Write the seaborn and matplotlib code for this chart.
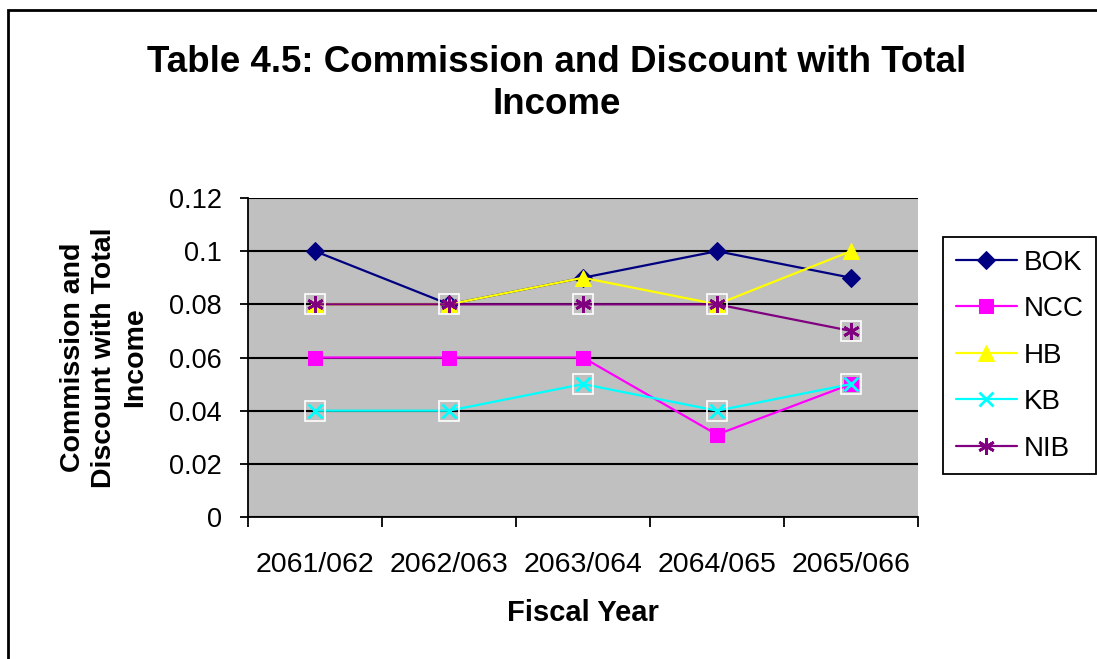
import matplotlib
matplotlib.use("Agg")
import matplotlib.pyplot as plt
import matplotlib.patches as mpatches
import seaborn as sns
import numpy as np

years = ["2061/062", "2062/063", "2063/064", "2064/065", "2065/066"]
bok = [0.10, 0.08, 0.09, 0.10, 0.09]
ncc = [0.06, 0.06, 0.06, 0.031, 0.05]
hb = [0.08, 0.08, 0.09, 0.08, 0.10]
kb = [0.04, 0.04, 0.05, 0.04, 0.05]
nib = [0.08, 0.08, 0.08, 0.08, 0.07]
y_ticks = [0, 0.02, 0.04, 0.06, 0.08, 0.1, 0.12]
y_tick_labels = ["0", "0.02", "0.04", "0.06", "0.08", "0.1", "0.12"]

sns.set_theme(style="white")
plt.rcParams['font.family'] = ['Liberation Sans', 'DejaVu Sans']
plt.rcParams.update({"text.color": "black", "axes.labelcolor": "black",
                     "xtick.color": "black", "ytick.color": "black"})

fig = plt.figure(figsize=(10.97, 6.59), dpi=100)
ax = fig.add_axes([248/1097, 1-517/659, (918-248)/1097, (517-198)/659])
ax.set_facecolor("#C0C0C0")

xs = np.arange(len(years))
series = [
    ("BOK", bok, "#000080", "D", 9, True),
    ("NCC", ncc, "#FF00FF", "s", 10, True),
    ("HB", hb, "#FFFF00", "^", 11, True),
    ("KB", kb, "#00FFFF", "x", 10, False),
    ("NIB", nib, "#800080", (6, 2, 0), 12, False),
]
for name, vals, col, mk, ms, filled in series:
    kw = dict(marker=mk, markersize=ms, color=col, linewidth=1.6, label=name, ax=ax)
    if filled:
        kw.update(markeredgecolor=col, markerfacecolor=col)
    else:
        kw.update(markeredgecolor=col, markeredgewidth=2)
    sns.lineplot(x=xs, y=vals, **kw)
    if not filled:
        ax.plot(xs, vals, linestyle="none", marker="s", markersize=14.5,
                markerfacecolor="none", markeredgecolor="white", markeredgewidth=1.2)

ax.set_xlim(-0.5, len(years) - 0.5)
ax.set_ylim(0, 0.12)
ax.set_yticks(y_ticks)
ax.set_yticklabels(y_tick_labels)
ax.set_xticks(np.arange(-0.5, len(years)), minor=False)
ax.set_xticklabels([])
ax.set_xticks(xs, minor=True)
ax.set_xticklabels(years, minor=True)
ax.tick_params(axis="x", which="major", direction="out", length=7, width=1.3, color="black", bottom=True)
ax.tick_params(axis="x", which="minor", length=0, pad=25, labelsize=20.5, labelcolor="black")
ax.tick_params(axis="y", direction="out", length=6, width=1.3, color="black", left=True,
               labelsize=19.5, pad=13, labelcolor="black")
ax.grid(axis="y", color="black", linewidth=1.5)
ax.grid(axis="x", visible=False)
for s in ["top", "right"]:
    ax.spines[s].set_visible(False)
for s in ["left", "bottom"]:
    ax.spines[s].set_color("black")
    ax.spines[s].set_linewidth(1.3)

ax.set_xlabel("Fiscal Year", fontsize=21, fontweight="bold", labelpad=15, color="black")
ax.set_ylabel("Commission and\nDiscount with Total\nIncome", fontsize=20.5, fontweight="bold",
              linespacing=1.25, color="black")
ax.yaxis.set_label_coords((148-248)/670, 0.5)

fig.text(557/1097, 1-83.5/659, "Table 4.5: Commission and Discount with Total\nIncome",
         ha="center", va="center", fontsize=26.5, fontweight="bold", linespacing=1.28, color="black")

leg = ax.legend(loc="upper left", bbox_to_anchor=(943/1097, 1-237/659), bbox_transform=fig.transFigure,
                fontsize=20, frameon=True, fancybox=False, edgecolor="black", framealpha=1,
                labelspacing=0.74, handlelength=2.2, handletextpad=0.25, borderpad=0.45,
                borderaxespad=0)
leg.get_frame().set_linewidth(1.3)
for t in leg.get_texts():
    t.set_color("black")

fig.patches.append(mpatches.Rectangle((8/1097, -0.05), 1.1, 1-10/659+0.05, transform=fig.transFigure,
                                      fill=False, edgecolor="black", linewidth=2))

fig.savefig("out.png", dpi=100)
